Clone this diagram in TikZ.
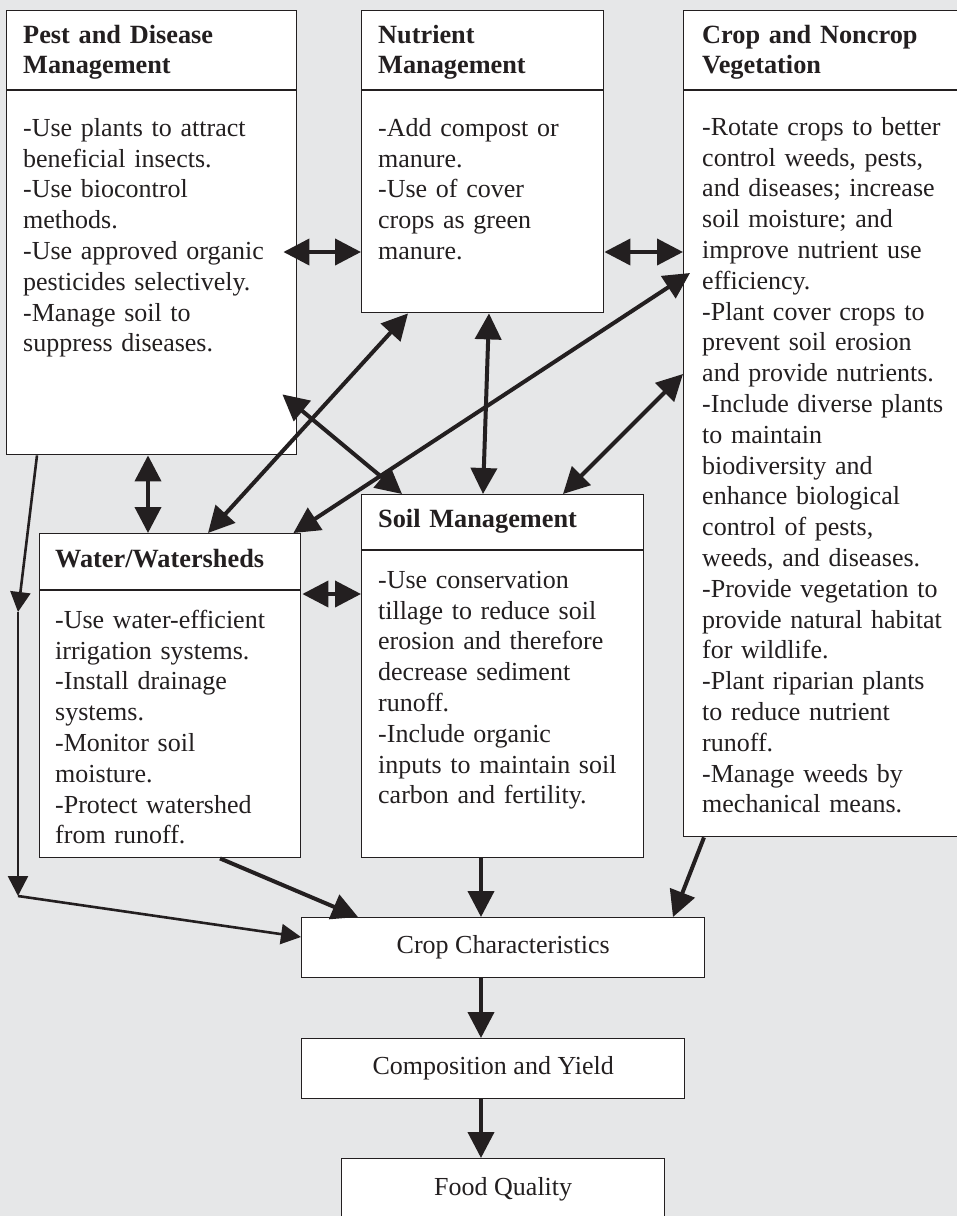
\documentclass[tikz,border=0pt]{standalone}
\usepackage{fontspec}
\setmainfont{Liberation Serif}
\usetikzlibrary{arrows.meta,calc}
\definecolor{bg}{RGB}{230,231,232}
\definecolor{ink}{RGB}{35,31,32}
\begin{document}
\begin{tikzpicture}[x=1pt,y=-1pt,
  >={Triangle[length=26pt,width=26pt]},
  box/.style={draw=ink, line width=1.4pt, fill=white, inner sep=0pt, anchor=north west},
  label/.style={draw=ink, line width=1.4pt, fill=white, inner sep=0pt, anchor=north west,
    font=\fontsize{26}{30.8}\selectfont, text=ink},
  head/.style={font=\bfseries\fontsize{26.3}{30}\selectfont, text=ink, inner sep=0pt,
    anchor=north west, align=left, text width=300pt, yshift=21pt},
  body/.style={font=\fontsize{26}{30.8}\selectfont, text=ink, inner sep=0pt,
    anchor=north west, align=left, text width=300pt, yshift=21.56pt},
  divider/.style={draw=ink, line width=1.4pt},
  dbl/.style={draw=ink, line width=4pt, <->},
  one/.style={draw=ink, line width=4pt, ->},
  lean/.style={draw=ink, line width=2.6pt, -{Triangle[length=20pt,width=20pt]}}
]
\useasboundingbox (0,0) rectangle (957,1216);
\fill[bg] (0,0) rectangle (957,1216);

% management boxes
\node[box, minimum width=290pt, minimum height=444pt] (pest)  at (6,10) {};
\node[box, minimum width=242pt, minimum height=302pt] (nutr)  at (361,10) {};
\node[box, minimum width=280pt, minimum height=826pt] (veg)   at (683,10) {};
\node[box, minimum width=261pt, minimum height=324pt] (water) at (39,533) {};
\node[box, minimum width=282pt, minimum height=363pt] (soil)  at (361,494) {};

% header rules
\draw[divider] (pest.west |- 0,90) -- (pest.east |- 0,90);
\draw[divider] (nutr.west |- 0,90) -- (nutr.east |- 0,90);
\draw[divider] (veg.west |- 0,90) -- (veg.east |- 0,90);
\draw[divider] (water.west |- 0,590) -- (water.east |- 0,590);
\draw[divider] (soil.west |- 0,550) -- (soil.east |- 0,550);

% headers
\node[head] (pesth)  at (23,43)  {\strut Pest and Disease\\Management};
\node[head] (nutrh)  at (378,43) {\strut Nutrient\\Management};
\node[head] (vegh)   at (702,43) {\strut Crop and Noncrop\\Vegetation};
\node[head] (waterh) at (55,567) {\strut Water/Watersheds};
\node[head] (soilh)  at (378,527) {\strut Soil Management};

% practices
\node[body] (pestb) at (23,136) {\strut -Use plants to attract\\beneficial insects.\\-Use biocontrol\\methods.\\-Use approved organic\\pesticides selectively.\\-Manage soil to\\suppress diseases.};
\node[body] (nutrb) at (378,136) {\strut -Add compost or\\manure.\\-Use of cover\\crops as green\\manure.};
\node[body] (vegb) at (702,135) {\strut -Rotate crops to better\\control weeds, pests,\\and diseases; increase\\soil moisture; and\\improve nutrient use\\efficiency.\\-Plant cover crops to\\prevent soil erosion\\and provide nutrients.\\-Include diverse plants\\to maintain\\biodiversity and\\enhance biological\\control of pests,\\weeds, and diseases.\\-Provide vegetation to\\provide natural habitat\\for wildlife.\\-Plant riparian plants\\to reduce nutrient\\runoff.\\-Manage weeds by\\mechanical means.};
\node[body] (waterb) at (55,628) {\strut -Use water-efficient\\irrigation systems.\\-Install drainage\\systems.\\-Monitor soil\\moisture.\\-Protect watershed\\from runoff.};
\node[body] (soilb) at (378,588) {\strut -Use conservation\\tillage to reduce soil\\erosion and therefore\\decrease sediment\\runoff.\\-Include organic\\inputs to maintain soil\\carbon and fertility.};

% outcome chain
\node[label, minimum width=403pt, minimum height=60pt] (cc) at (301,917) {Crop Characteristics};
\node[label, minimum width=383pt, minimum height=60pt] (cy) at (301,1038) {Composition and Yield};
\node[label, minimum width=323pt, minimum height=62pt] (fq) at (341,1158) {Food Quality};

% two-way links between practices
\draw[dbl] ($(pest.north east)+(-14,242)$) -- ($(nutr.north west)+(0,242)$);
\draw[dbl] ($(nutr.north east)+(0,242)$) -- ($(veg.north west)+(0,242)$);
\draw[dbl] ($(pest.south west)+(142,0)$) -- ($(water.north west)+(109,0)$);
\draw[dbl] ($(water.north east)+(1,61)$) -- ($(soil.north west)+(0,100)$);
\draw[dbl] ($(water.north west)+(169,0)$) -- ($(nutr.south west)+(47,0)$);
\draw[dbl] ($(water.north east)+(-8,0)$) -- ($(veg.north west)+(7,263)$);
\draw[dbl] ($(pest.south east)+(-15,-61)$) -- ($(soil.north west)+(41,0)$);
\draw[dbl] ($(nutr.south west)+(128,0)$) -- ($(soil.north west)+(122,0)$);
\draw[dbl] ($(soil.north west)+(202,0)$) -- ($(veg.north west)+(0,364)$);

% left-hand route from pest management
\coordinate (k1) at (18,612);
\coordinate (k2) at (18,896);
\draw[lean] ($(pest.south west)+(31,0)$) -- (k1);
\draw[lean] (k1) -- (k2);
\draw[lean] (k2) -- ($(cc.north west)+(0,20)$);

% practices feeding crop characteristics
\draw[one] ($(water.south west)+(181,0)$) -- ($(cc.north west)+(57,0)$);
\draw[one] ($(soil.south west)+(120,0)$) -- ($(cc.north west)+(180,0)$);
\draw[one] ($(veg.south west)+(21,0)$) -- ($(cc.north west)+(372,0)$);
\draw[one] ($(cc.south west)+(180,0)$) -- ($(cy.north west)+(180,0)$);
\draw[one] ($(cy.south west)+(180,0)$) -- ($(fq.north west)+(140,0)$);
\end{tikzpicture}
\end{document}
